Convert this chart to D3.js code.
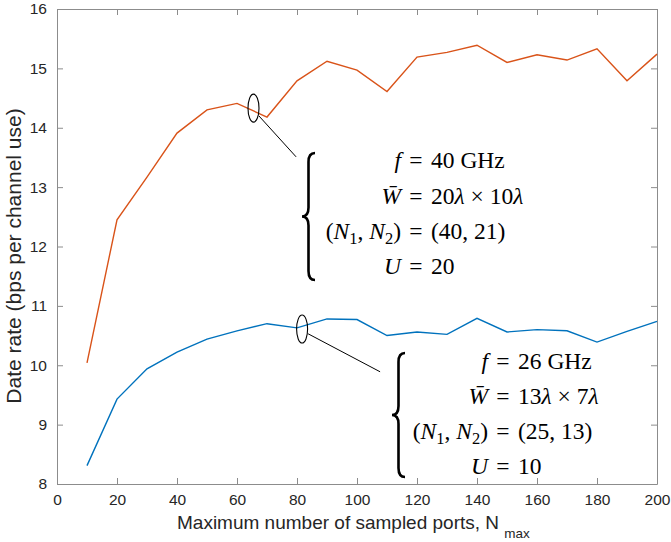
<!DOCTYPE html>
<html>
<head>
<meta charset="utf-8">
<script src="https://cdn.jsdelivr.net/npm/d3@7"></script>
<style>
  body { margin: 0; background: #fff; }
  .tick text { font-family: "Liberation Sans", Arial, sans-serif; font-size: 15.5px; fill: #262626; }
  .eq { font-family: "Liberation Serif", "DejaVu Serif", serif; font-size: 23.5px; fill: #000; }
</style>
</head>
<body>
<div id="chart"></div>
<script>
// data
var ports = [10, 20, 30, 40, 50, 60, 70, 80, 90, 100, 110, 120, 130, 140, 150, 160, 170, 180, 190, 200];
var rate40 = [10.04, 12.45, 13.17, 13.91, 14.30, 14.41, 14.18, 14.79, 15.12, 14.97, 14.61, 15.19, 15.27, 15.39, 15.10, 15.23, 15.14, 15.33, 14.79, 15.24];
var rate26 = [8.31, 9.43, 9.94, 10.22, 10.44, 10.58, 10.70, 10.63, 10.78, 10.77, 10.50, 10.56, 10.52, 10.79, 10.56, 10.60, 10.58, 10.39, 10.57, 10.74];
var xTicks = [0, 20, 40, 60, 80, 100, 120, 140, 160, 180, 200];
var yTicks = [8, 9, 10, 11, 12, 13, 14, 15, 16];

var W = 671, H = 542;
var m = {left: 57, right: 14, top: 9, bottom: 58};
var iw = W - m.left - m.right, ih = H - m.top - m.bottom;

var svg = d3.select("#chart").append("svg")
    .attr("width", W)
    .attr("height", H);

var g = svg.append("g").attr("transform", "translate(" + m.left + "," + m.top + ")");

var x = d3.scaleLinear().domain([0, 200]).range([0, iw]);
var y = d3.scaleLinear().domain([8, 16]).range([ih, 0]);

// axes, ticks inside on all four sides
g.append("g").attr("transform", "translate(0," + ih + ")")
    .call(d3.axisBottom(x).tickValues(xTicks).tickSizeInner(-6).tickSizeOuter(0).tickPadding(10));
g.append("g")
    .call(d3.axisTop(x).tickValues(xTicks).tickSizeInner(-6).tickSizeOuter(0).tickFormat(""));
g.append("g")
    .call(d3.axisLeft(y).tickValues(yTicks).tickSizeInner(-6).tickSizeOuter(0).tickPadding(10));
g.append("g").attr("transform", "translate(" + iw + ",0)")
    .call(d3.axisRight(y).tickValues(yTicks).tickSizeInner(-6).tickSizeOuter(0).tickFormat(""));

g.selectAll(".domain").attr("stroke", "#8c8c8c");
g.selectAll(".tick line").attr("stroke", "#8c8c8c");

// lines
var line = d3.line()
    .x(function(d, i) { return x(ports[i]); })
    .y(function(d) { return y(d); });

g.append("path").datum(rate40)
    .attr("d", line)
    .attr("fill", "none")
    .attr("stroke", "#D95319")
    .attr("stroke-width", 1.4);

g.append("path").datum(rate26)
    .attr("d", line)
    .attr("fill", "none")
    .attr("stroke", "#0072BD")
    .attr("stroke-width", 1.4);

// axis labels
svg.append("text")
    .attr("transform", "translate(21,256) rotate(-90)")
    .attr("text-anchor", "middle")
    .style("font-family", "Liberation Sans, Arial, sans-serif")
    .style("font-size", "21px")
    .style("fill", "#262626")
    .text("Date rate (bps per channel use)");

var xl = svg.append("text")
    .attr("x", 177)
    .attr("y", 529)
    .attr("text-anchor", "start")
    .style("font-family", "Liberation Sans, Arial, sans-serif")
    .style("font-size", "19px")
    .style("fill", "#262626");
xl.append("tspan").text("Maximum number of sampled ports, N ");
xl.append("tspan").attr("dy", 9).style("font-size", "13.5px").text("max");

// annotations: ellipse + leader + brace + equations aligned on "="
function brace(xl, xr, y0, y1) {
  var xm = (xl + xr) / 2, ym = (y0 + y1) / 2, r = 9;
  return "M" + xr + "," + y0 +
    " Q" + xm + "," + y0 + " " + xm + "," + (y0 + r) +
    " L" + xm + "," + (ym - r) +
    " Q" + xm + "," + ym + " " + xl + "," + ym +
    " Q" + xm + "," + ym + " " + xm + "," + (ym + r) +
    " L" + xm + "," + (y1 - r) +
    " Q" + xm + "," + y1 + " " + xr + "," + y1;
}

function addPart(t, p) {
  var s = t.append("tspan").text(p.t);
  if (p.i) s.style("font-style", "italic");
  if (p.sub) s.attr("dy", 5).style("font-size", "16.5px");
  if (p.up) s.attr("dy", -5);
}

function annotate(ell, lead, br, eqX, baselines, rows) {
  g.append("ellipse")
    .attr("cx", x(ell[0])).attr("cy", y(ell[1]))
    .attr("rx", 5.5).attr("ry", 14)
    .attr("fill", "none").attr("stroke", "#000").attr("stroke-width", 1.1);
  g.append("line")
    .attr("x1", x(lead[0])).attr("y1", y(lead[1]))
    .attr("x2", x(lead[2])).attr("y2", y(lead[3]))
    .attr("stroke", "#000").attr("stroke-width", 1);
  svg.append("path")
    .attr("d", brace(br[0], br[1], br[2], br[3]))
    .attr("fill", "none").attr("stroke", "#000").attr("stroke-width", 2.6);
  rows.forEach(function(r, i) {
    var lhs = svg.append("text").attr("class", "eq").attr("x", eqX - 15).attr("y", baselines[i]).attr("text-anchor", "end");
    r[0].forEach(function(p) { addPart(lhs, p); });
    svg.append("text").attr("class", "eq").attr("x", eqX).attr("y", baselines[i]).attr("text-anchor", "middle").text("=");
    var rhs = svg.append("text").attr("class", "eq").attr("x", eqX + 15).attr("y", baselines[i]).attr("text-anchor", "start");
    r[1].forEach(function(p) { addPart(rhs, p); });
  });
}

annotate([65.5, 14.33], [67.3, 14.2, 79.7, 13.51], [302, 315, 153, 280], 416,
  [168, 204, 239, 274],
  [
    [[{t: "f", i: 1}], [{t: "40 GHz"}]],
    [[{t: "W\u0304", i: 1}], [{t: "20"}, {t: "\u03bb", i: 1}, {t: " \u00d7 10"}, {t: "\u03bb", i: 1}]],
    [[{t: "("}, {t: "N", i: 1}, {t: "1", sub: 1}, {t: ", ", up: 1}, {t: "N", i: 1}, {t: "2", sub: 1}, {t: ")", up: 1}], [{t: "(40, 21)"}]],
    [[{t: "U", i: 1}], [{t: "20"}]]
  ]);

annotate([81.7, 10.61], [83.7, 10.53, 107.7, 9.89], [392, 405, 353, 477], 503,
  [369, 404, 439, 474],
  [
    [[{t: "f", i: 1}], [{t: "26 GHz"}]],
    [[{t: "W\u0304", i: 1}], [{t: "13"}, {t: "\u03bb", i: 1}, {t: " \u00d7 7"}, {t: "\u03bb", i: 1}]],
    [[{t: "("}, {t: "N", i: 1}, {t: "1", sub: 1}, {t: ", ", up: 1}, {t: "N", i: 1}, {t: "2", sub: 1}, {t: ")", up: 1}], [{t: "(25, 13)"}]],
    [[{t: "U", i: 1}], [{t: "10"}]]
  ]);
</script>
</body>
</html>
